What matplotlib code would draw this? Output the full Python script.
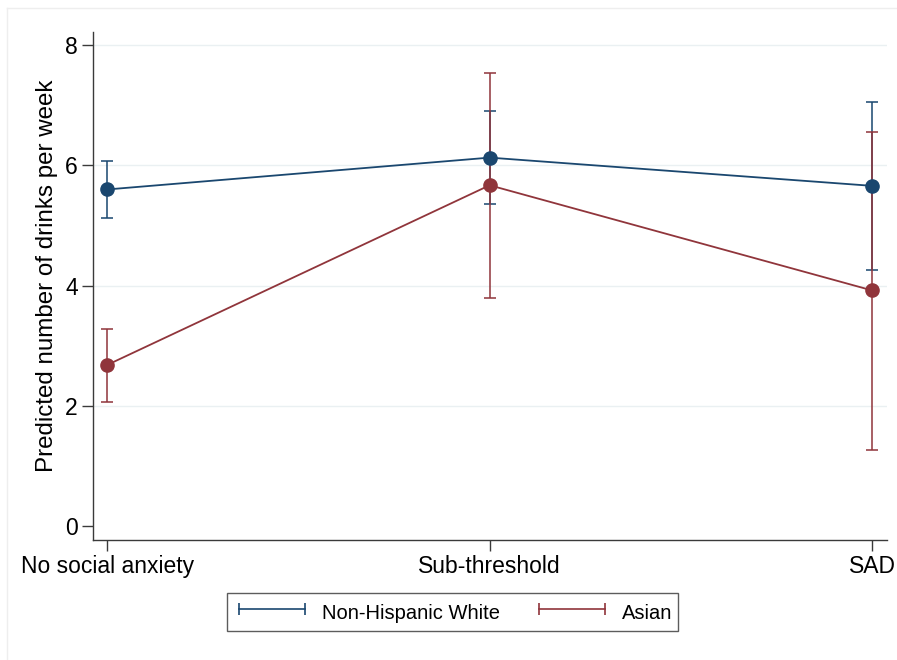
import matplotlib.pyplot as plt
from matplotlib.lines import Line2D
import numpy as np

plt.rcParams['font.family'] = ['Liberation Sans', 'DejaVu Sans']

# categories and estimates
categories = ['No social anxiety', 'Sub-threshold', 'SAD']
white_est = [5.60, 6.13, 5.66]
white_lo = [5.12, 5.36, 4.26]
white_hi = [6.08, 6.90, 7.06]
asian_est = [2.68, 5.67, 3.92]
asian_lo = [2.07, 3.79, 1.27]
asian_hi = [3.28, 7.54, 6.56]
yticks = [0, 2, 4, 6, 8]

navy = '#1a476f'
maroon = '#90353b'

fig = plt.figure(figsize=(8.97, 6.6), dpi=100)
ax = fig.add_axes([0.1037, 0.1818, 0.8852, 0.7697])

x = np.arange(len(categories))

for est, lo, hi, col in [(white_est, white_lo, white_hi, navy),
                         (asian_est, asian_lo, asian_hi, maroon)]:
    est = np.array(est)
    yerr = [est - np.array(lo), np.array(hi) - est]
    ax.errorbar(x, est, yerr=yerr, fmt='none', ecolor=col, elinewidth=1.3,
                capsize=4.6, capthick=1.3, alpha=0.85, zorder=2)

ax.plot(x, white_est, color=navy, lw=1.3, marker='o', ms=9.5, zorder=3)
ax.plot(x, asian_est, color=maroon, lw=1.3, marker='o', ms=9.5, zorder=3)

ax.set_xlim(-0.037, 2.039)
ax.set_ylim(-0.233, 8.22)
ax.set_xticks(x)
ax.set_xticklabels(categories, fontsize=16.5)
ax.set_yticks(yticks)
ax.set_yticklabels([str(t) for t in yticks], fontsize=16.5)
ax.set_ylabel('Predicted number of drinks per week', fontsize=17.4)
ax.yaxis.set_label_coords(-0.044, 0.52)

for t in yticks[1:]:
    ax.axhline(t, color='#eaf0f2', lw=1.0, zorder=0)

for side in ['top', 'right']:
    ax.spines[side].set_visible(False)
for side in ['left', 'bottom']:
    ax.spines[side].set_color('#3a3a3a')
    ax.spines[side].set_linewidth(1.0)
ax.tick_params(axis='both', length=8, width=1.0, color='#3a3a3a')
ax.tick_params(axis='y', pad=3)
ax.tick_params(axis='x', pad=3)

handles = [Line2D([], [], color=navy, lw=1.2, marker='|', ms=8, mew=1.2),
           Line2D([], [], color=maroon, lw=1.2, marker='|', ms=8, mew=1.2)]
leg = fig.legend(handles, ['Non-Hispanic White', 'Asian'], loc='center',
                 bbox_to_anchor=(0.5045, 0.072), ncol=2, numpoints=2,
                 fontsize=14.5, handlelength=3.9, handletextpad=0.55,
                 handleheight=1.6, columnspacing=1.6, frameon=True,
                 fancybox=False, borderpad=0.3, borderaxespad=0)
leg.get_frame().set_edgecolor('#333333')
leg.get_frame().set_linewidth(1.0)

# faint outer frame of the graph region
fig.add_artist(Line2D([7 / 897, 7 / 897], [0, 1 - 8 / 660],
                      transform=fig.transFigure, color='#eeeeee', lw=1))
fig.add_artist(Line2D([7 / 897, 1], [1 - 8 / 660, 1 - 8 / 660],
                      transform=fig.transFigure, color='#eeeeee', lw=1))

fig.savefig('out.png', dpi=100)
